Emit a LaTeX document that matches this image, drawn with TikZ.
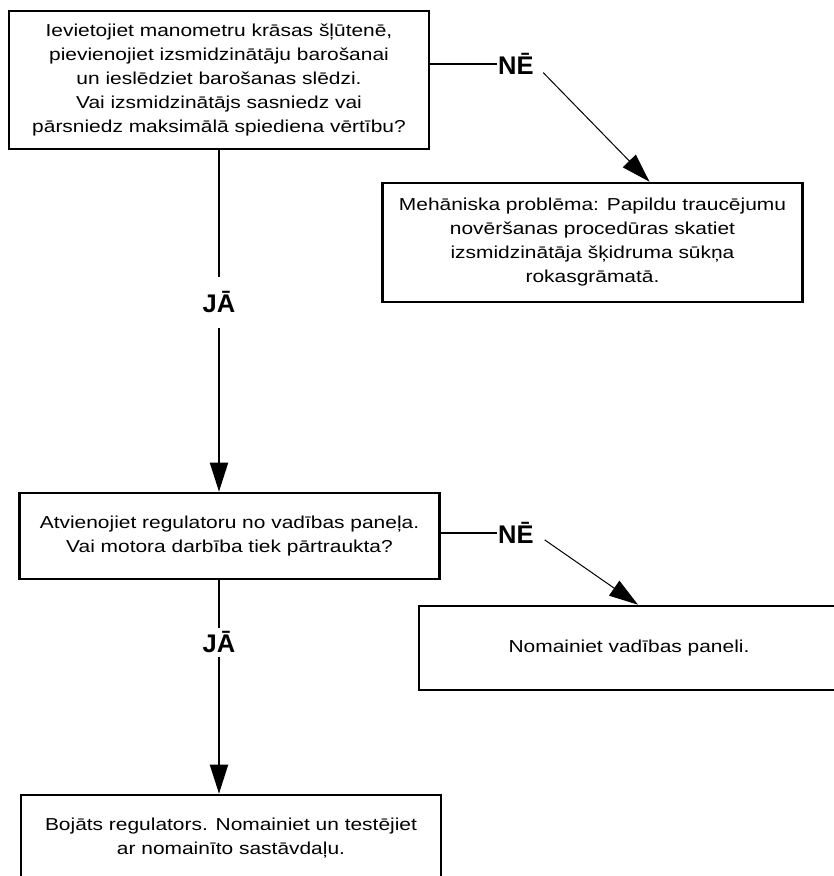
\documentclass[tikz,border=0pt]{standalone}
\usepackage{fontspec}
\setmainfont{Liberation Sans}[FakeStretch=1.21]
\newfontfamily\answerfont{Liberation Sans}
\usepackage{tikz}
\usetikzlibrary{arrows.meta,positioning}
\tikzset{
  question/.style={rectangle,draw=black,line width=2.6pt,fill=white,minimum width=420pt,inner sep=0pt,align=center,font=\fontsize{17.3}{24}\selectfont},
  answer/.style={inner sep=1pt,font={\answerfont\bfseries\fontsize{25.5}{30}\selectfont}},
  link/.style={line width=2pt},
  arrow/.style={-{Triangle[length=29pt,width=18pt]},line width=2pt},
  arrowd/.style={-{Triangle[length=29pt,width=18pt]},line width=1pt,shorten <=12pt},
}

\begin{document}
\begin{tikzpicture}[x=1pt,y=-1pt]
  \useasboundingbox (0,0) rectangle (834,876);

  \node[question, minimum height=138pt] (q1) at (219,80) {Ievietojiet manometru krāsas šļūtenē,\\pievienojiet izsmidzinātāju barošanai\\un ieslēdziet barošanas slēdzi.\\Vai izsmidzinātājs sasniedz vai\\pārsniedz maksimālā spiediena vērtību?};
  \node[question, minimum height=119pt] (mech) at (592.5,242.5) {Mehāniska problēma: Papildu traucējumu\\novēršanas procedūras skatiet\\izsmidzinātāja šķidruma sūkņa\\rokasgrāmatā.};
  \node[question, minimum height=86pt] (q2) at (229.5,536) {Atvienojiet regulatoru no vadības paneļa.\\Vai motora darbība tiek pārtraukta?};
  \node[question, minimum height=84pt] (repl) at (629,648) {Nomainiet vadības paneli.};
  \node[question, minimum height=86pt] (bad) at (231,838) {Bojāts regulators. Nomainiet un testējiet\\ar nomainīto sastāvdaļu.};

  \node[answer, anchor=west] (ne1) at (497,64) {NĒ};
  \node[answer, anchor=west] (ne2) at (497,533) {NĒ};
  \node[answer, minimum height=51pt] (ja1) at (219,302.5) {JĀ};
  \node[answer, minimum height=29pt] (ja2) at (219,642.5) {JĀ};

  \draw[link] (q1.east |- ne1.west) -- (ne1.west);
  \draw[arrowd] (ne1.east) -- ([xshift=57pt]mech.north);
  \draw[link] (q1.south) -- (ja1);
  \draw[arrow] (ja1) -- (ja1 |- q2.north);
  \draw[link] (q2.east |- ne2.west) -- (ne2.west);
  \draw[arrowd] (ne2.east) -- ([xshift=9pt]repl.north);
  \draw[link] (ja2 |- q2.south) -- (ja2);
  \draw[arrow] (ja2) -- (ja2 |- bad.north);
\end{tikzpicture}
\end{document}
